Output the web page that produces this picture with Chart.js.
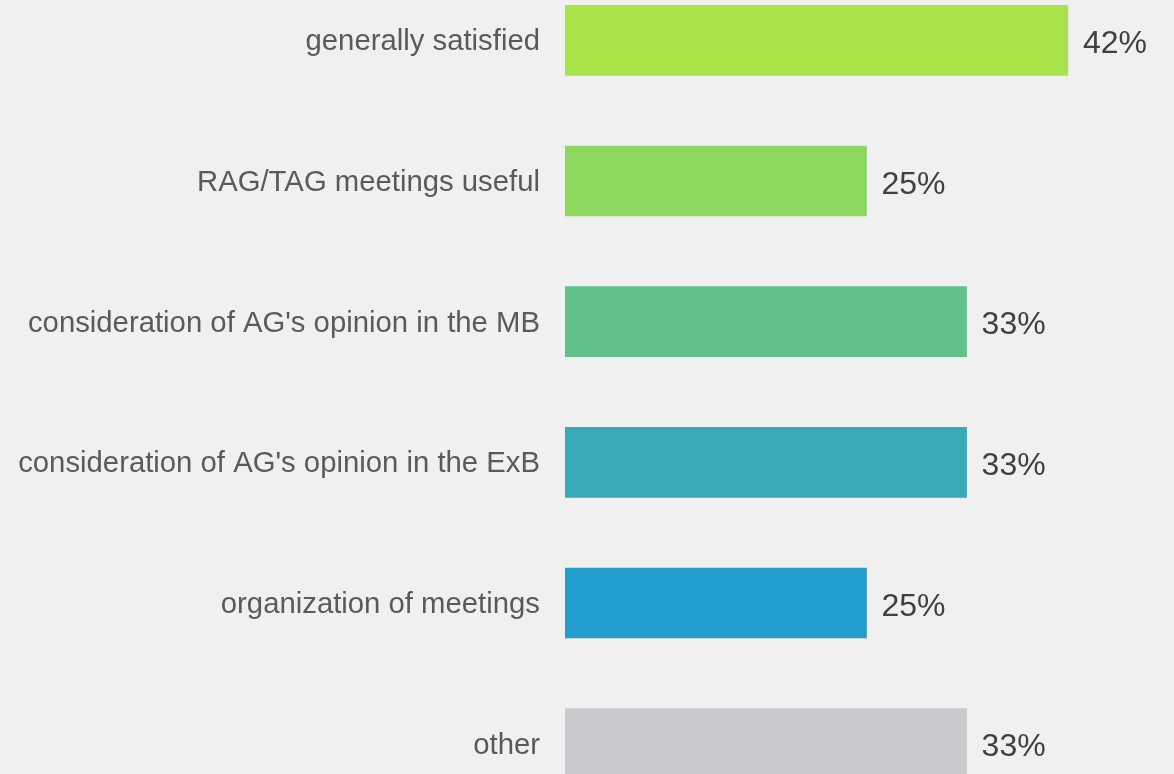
<!DOCTYPE html>
<html>
<head>
<meta charset="utf-8">
<script src="https://cdn.jsdelivr.net/npm/chart.js@4"></script>
<style>
    html, body {
        margin: 0;
        padding: 0;
        background: #f0f0f0;
        overflow: hidden;
    }
    #chart {
        position: absolute;
        left: 0;
        top: -30px;
    }
</style>
</head>
<body>
<canvas id="chart" width="1174" height="844"></canvas>
<script>
// categories and values (share of answers, %)
const categories = [
    "generally satisfied",
    "RAG/TAG meetings useful",
    "consideration of AG's opinion in the MB",
    "consideration of AG's opinion in the ExB",
    "organization of meetings",
    "other"
];
const values = [41.7, 25, 33.3, 33.3, 25, 33.3];
const barColors = ["#a8e34a", "#8dd75f", "#62c08b", "#38a9b6", "#239ecc", "#cacace"];

// draws the "42%" style labels at the end of each bar
const valueLabels = {
    id: "valueLabels",
    afterDatasetsDraw(chart) {
        const ctx = chart.ctx;
        const meta = chart.getDatasetMeta(0);
        ctx.save();
        ctx.font = "32px 'Liberation Sans', Arial, sans-serif";
        ctx.fillStyle = "#404040";
        ctx.textAlign = "left";
        ctx.textBaseline = "middle";
        meta.data.forEach(function (bar, i) {
            ctx.fillText(Math.round(values[i]) + "%", bar.x + 15, bar.y + 4);
        });
        ctx.restore();
    }
};

window.addEventListener("load", function () {
    const chartCanvas = document.getElementById("chart");
    chart = new Chart(chartCanvas, {
        type: "bar",
        data: {
            labels: categories,
            datasets: [
                {
                    data: values,
                    backgroundColor: barColors,
                    borderWidth: 0,
                    barThickness: 70
                }
            ]
        },
        options: {
            indexAxis: "y",
            responsive: false,
            animation: false,
            layout: {padding: 0},
            plugins: {
                legend: {display: false},
                tooltip: {enabled: false}
            },
            scales: {
                x: {
                    display: false,
                    min: 0,
                    max: 50.5
                },
                y: {
                    grid: {display: false, drawTicks: false},
                    border: {display: false},
                    ticks: {
                        color: "#5a5a5a",
                        padding: 25,
                        labelOffset: 2,
                        font: {family: "'Liberation Sans', Arial, sans-serif", size: 29.3}
                    },
                    afterFit: function (scale) {
                        scale.width = 565;
                        // no extra room above/below the first and last label
                        scale.paddingTop = 0;
                        scale.paddingBottom = 0;
                    }
                }
            }
        },
        plugins: [valueLabels]
    });
});
</script>
</body>
</html>
